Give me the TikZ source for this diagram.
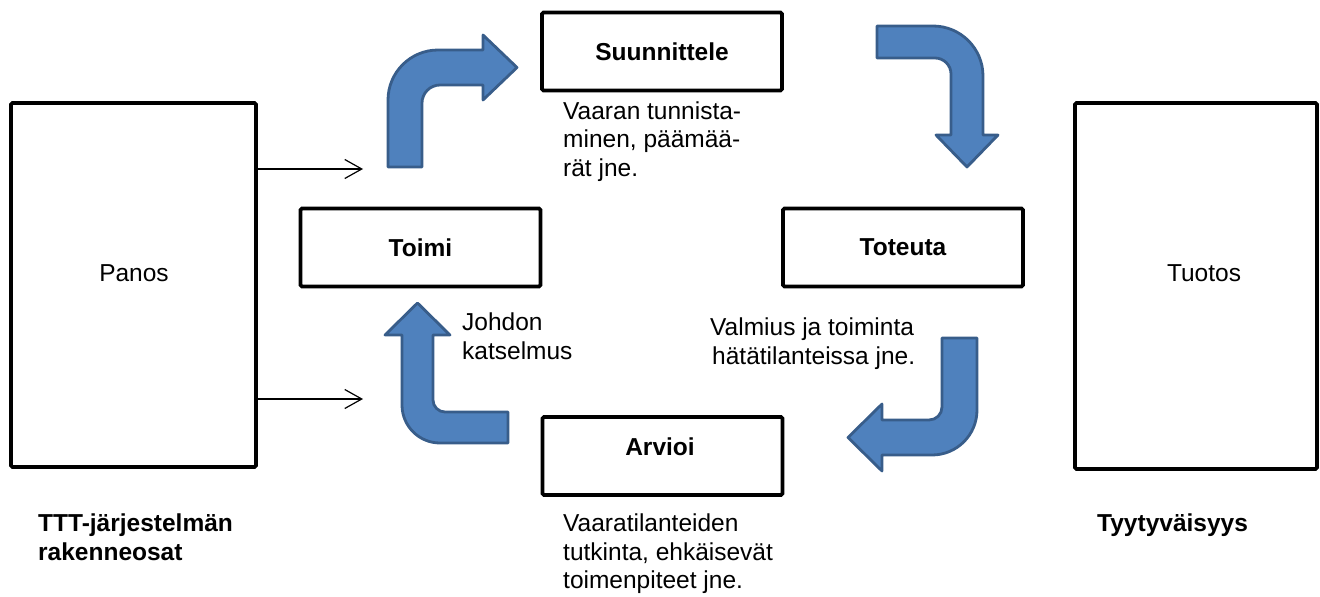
\documentclass[tikz,border=0pt]{standalone}
\usepackage{fontspec}
\setmainfont{Liberation Sans}
\usetikzlibrary{arrows.meta}
\definecolor{bentfill}{HTML}{4F81BD}
\definecolor{bentline}{HTML}{385D8A}
\begin{document}
\begin{tikzpicture}[x=1pt,y=-1pt,
  every node/.style={font=\fontsize{24.5}{28.7}\selectfont},
  frame/.style={draw=black,line width=3.6pt,rounded corners=1.5pt,inner sep=0pt,anchor=center},
  phase/.style={frame,minimum width=240pt,minimum height=78pt,font=\fontsize{24.5}{28.7}\selectfont\bfseries},
  note/.style={align=left,inner sep=0pt,anchor=base west},
  boldnote/.style={note,font=\fontsize{24.5}{28.7}\selectfont\bfseries},
  bent/.style={fill=bentfill,draw=bentline,line width=2.8pt,line join=round},
  feed/.style={line width=1.2pt,-{Straight Barb[length=17pt,width=19pt,line width=1.2pt]}}]
\useasboundingbox (0,0) rectangle (1320,597);

% outer input / output frames
\node[frame,minimum width=245pt,minimum height=364pt] (panos) at (133.5,285) {};
\node[frame,minimum width=242pt,minimum height=366pt] (tuotos) at (1196,286) {};
\node[inner sep=0pt,anchor=base] (panosT) at (134,281) {Panos};
\node[inner sep=0pt,anchor=base] (tuotosT) at (1204,281) {Tuotos};

% the four phases of the cycle
\node[phase] (suunnittele) at (662,51.5) {Suunnittele};
\node[phase] (toteuta) at (903,247.5) {Toteuta};
\node[phase] (toimi) at (420.5,247.5) {Toimi};
\node[phase] (arvioi) at (662.5,456) {};
\node[inner sep=0pt,anchor=base,font=\fontsize{24.5}{28.7}\selectfont\bfseries] (arvioiT) at (660,455) {Arvioi};

% descriptions (anchored at the baseline of their last line)
\node[note] (suunnitteleN) at (563,176.4) {Vaaran tunnista-\\minen, päämää-\\rät jne.};
\node[note] (toteutaN) at (710,364.2) {Valmius ja toiminta\\\hspace{2pt}hätätilanteissa jne.};
\node[note] (toimiN) at (462,359.2) {Johdon\\katselmus};
\node[note] (arvioiN) at (563,588.9) {Vaaratilanteiden\\tutkinta, ehkäisevät\\toimenpiteet jne.};
\node[boldnote] (panosN) at (38,560.2) {TTT-järjestelmän\\rakenneosat};
\node[boldnote] (tuotosN) at (1097,531.5) {Tyytyväisyys};

% thin input arrows
\coordinate (inTop) at (363,169);
\coordinate (inBottom) at (363,399);
\draw[feed] (inTop -| panos.east) -- (inTop);
\draw[feed] (inBottom -| panos.east) -- (inBottom);

% bent block arrows
\draw[bent] (388,167) -- (388,100) .. controls (388,72.4) and (410.4,50) .. (438,50)
  -- (483,50) -- (483,35) -- (517,67.5) -- (483,100) -- (483,85) -- (440,85)
  .. controls (430.1,85) and (422,93.1) .. (422,103) -- (422,167) -- cycle;
\draw[bent] (877,26) -- (933,26) .. controls (960.6,26) and (983,48.4) .. (983,76)
  -- (983,135) -- (998,135) -- (967,167) -- (936,135) -- (951,135) -- (951,74)
  .. controls (951,65.2) and (943.8,58) .. (935,58) -- (877,58) -- cycle;
\draw[bent] (942,338) -- (977,338) -- (977,410) .. controls (977,434.9) and (956.9,455) .. (932,455)
  -- (882,455) -- (882,471) -- (848,437.5) -- (882,404) -- (882,420) -- (929,420)
  .. controls (936.2,420) and (942,414.2) .. (942,407) -- cycle;
\draw[bent] (508,443) -- (440,443) .. controls (419,443) and (402,426) .. (402,405)
  -- (402,335) -- (385,335) -- (417.5,303) -- (450,335) -- (433,335) -- (433,400)
  .. controls (433,406.6) and (438.4,412) .. (445,412) -- (508,412) -- cycle;
\end{tikzpicture}
\end{document}
